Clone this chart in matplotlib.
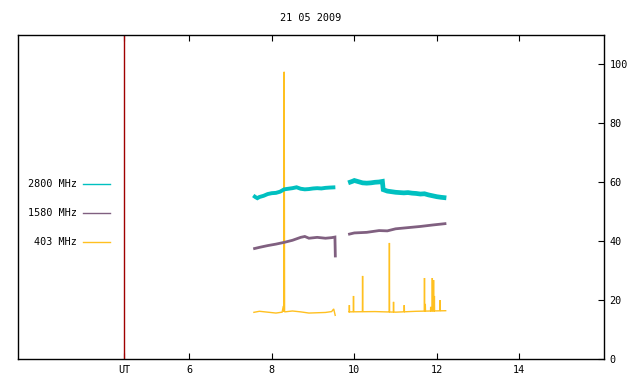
import numpy as np
import matplotlib
matplotlib.use('Agg')
import matplotlib.pyplot as plt
from matplotlib.lines import Line2D

# Readings (UT hours, flux units)
TITLE = '21 05 2009'
UT_MARK = 4.43

t2800_a = [7.55, 7.6, 7.65, 7.7, 7.8, 7.9, 8.0, 8.1, 8.2, 8.3, 8.4, 8.5, 8.6, 8.7,
           8.8, 8.9, 9.0, 9.1, 9.2, 9.3, 9.4, 9.54]
v2800_a = [55.5, 55.0, 54.6, 55.0, 55.4, 56.0, 56.3, 56.4, 56.8, 57.6, 57.8, 58.0, 58.3, 57.8,
           57.6, 57.7, 57.9, 58.0, 57.9, 58.1, 58.2, 58.3]
t2800_b = [9.85, 9.95, 10.0, 10.1, 10.2, 10.3, 10.4, 10.5, 10.6, 10.68, 10.7, 10.8, 10.9,
           11.0, 11.1, 11.2, 11.3, 11.4, 11.5, 11.6, 11.7, 11.8, 11.9, 12.0, 12.1, 12.23]
v2800_b = [59.8, 60.3, 60.6, 60.2, 59.8, 59.7, 59.8, 60.0, 60.1, 60.3, 57.5, 57.0, 56.8,
           56.6, 56.5, 56.4, 56.5, 56.3, 56.2, 56.0, 56.1, 55.7, 55.4, 55.1, 54.9, 54.7]

t1580_a = [7.55, 7.7, 7.9, 8.1, 8.3, 8.5, 8.7, 8.8, 8.9, 9.1, 9.3, 9.45, 9.53, 9.54]
v1580_a = [37.4, 37.9, 38.5, 39.0, 39.6, 40.3, 41.3, 41.6, 41.0, 41.3, 41.0, 41.2, 41.4, 34.5]
t1580_b = [9.85, 10.0, 10.3, 10.6, 10.8, 11.0, 11.3, 11.6, 11.9, 12.1, 12.23]
v1580_b = [42.3, 42.8, 43.0, 43.6, 43.5, 44.2, 44.6, 45.0, 45.5, 45.8, 46.0]

t403_a = [7.55, 7.7, 7.9, 8.1, 8.25, 8.28, 8.29, 8.30, 8.31, 8.5, 8.7, 8.9, 9.1, 9.3,
          9.45, 9.5, 9.52, 9.54]
v403_a = [15.8, 16.2, 15.9, 15.6, 15.9, 18.0, 16.0, 97.5, 16.0, 16.3, 16.0, 15.6, 15.7, 15.8,
          16.1, 17.0, 15.8, 14.6]
t403_b_base = [9.85, 10.5, 11.0, 11.5, 12.23]
v403_b_base = [16.0, 16.1, 15.9, 16.2, 16.4]
spike_t = [9.88, 9.98, 10.2, 10.85, 10.95, 11.21, 11.7, 11.72, 11.85, 11.89, 11.92, 11.94, 12.08]
spike_v = [18.3, 21.4, 28.2, 39.4, 19.4, 18.3, 27.5, 18.7, 17.7, 27.5, 26.8, 21.4, 20.0]

C2800 = '#00c0c0'
C1580 = '#806080'
C403 = '#ffc020'

plt.rcParams['font.family'] = ['DejaVu Sans Mono']
plt.rcParams['font.size'] = 7.3

fig = plt.figure(figsize=(6.4, 3.84), dpi=100)
ax = fig.add_axes([18 / 640, 1 - 359 / 384, 586 / 640, 324 / 384])

# 403 MHz second segment: baseline with narrow spikes
base_b = np.interp(spike_t, t403_b_base, v403_b_base)
tb, vb = list(t403_b_base), list(v403_b_base)
for t, v, b in zip(spike_t, spike_v, base_b):
    tb += [t - 0.004, t, t + 0.004]
    vb += [b, v, b]
order = np.argsort(tb, kind='stable')
tb = np.array(tb)[order]
vb = np.array(vb)[order]

kw = dict(solid_capstyle='butt', solid_joinstyle='miter')
ax.plot(t403_a, v403_a, color=C403, lw=1.0, **kw)
ax.plot(tb, vb, color=C403, lw=1.0, **kw)
ax.plot(t1580_a, v1580_a, color=C1580, lw=2.0, **kw)
ax.plot(t1580_b, v1580_b, color=C1580, lw=2.0, **kw)
ax.plot(t2800_a, v2800_a, color=C2800, lw=2.8, **kw)
ax.plot(t2800_b, v2800_b, color=C2800, lw=3.4, **kw)

ax.axvline(UT_MARK, color='#a00000', lw=1.0)

ax.set_xlim(1.85, 16.05)
ax.set_ylim(0, 110)

ax.set_xticks([UT_MARK, 6, 8, 10, 12, 14])
ax.set_xticklabels(['UT', '6', '8', '10', '12', '14'])
ax.tick_params(axis='x', direction='in', top=True, length=4, width=0.8, pad=4)
ax.yaxis.tick_right()
ax.set_yticks([0, 20, 40, 60, 80, 100])
ax.tick_params(axis='y', direction='in', left=False, right=True, length=4, width=0.8, pad=4)
for s in ax.spines.values():
    s.set_linewidth(1.0)

fig.text(311 / 640, 1 - 18 / 384, TITLE, ha='center', va='center')

# legend at the left, text then sample line
for lab, col, y in [('2800 MHz', C2800, 184), ('1580 MHz', C1580, 213), ('403 MHz', C403, 242)]:
    fig.text(77 / 640, 1 - y / 384, lab, ha='right', va='center')
    fig.add_artist(Line2D([83 / 640, 110 / 640], [1 - y / 384, 1 - y / 384],
                          color=col, lw=1.0, transform=fig.transFigure))

fig.savefig('out.png', dpi=100)
